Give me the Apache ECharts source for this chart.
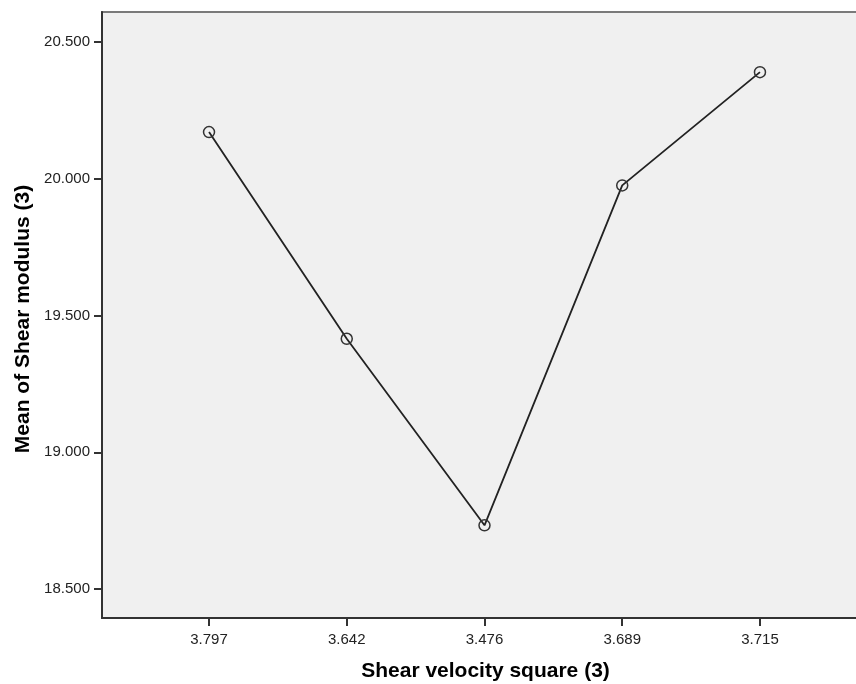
<!DOCTYPE html>
<html>
<head>
<meta charset="utf-8">
<script src="https://cdn.jsdelivr.net/npm/echarts@6/dist/echarts.min.js"></script>
<style>
html,body{margin:0;padding:0;background:#fff;}
#chart{width:856px;height:684px;}
</style>
</head>
<body>
<div id="chart"></div>
<script>
// Categories (x axis) and series values (means)
var categories = ['3.797', '3.642', '3.476', '3.689', '3.715'];
var meanShearModulus = [20.171, 19.415, 18.733, 19.976, 20.390];
var yTickValues = [18.5, 19.0, 19.5, 20.0, 20.5];
var yTickLabels = ['18.500', '19.000', '19.500', '20.000', '20.500'];

var seriesData = meanShearModulus.map(function (v, i) { return [i, v]; });
var catIndex = categories.map(function (c, i) { return i; });

var chart = echarts.init(document.getElementById('chart'), null, { renderer: 'canvas' });
var FONT = 'Liberation Sans, Arial, sans-serif';
chart.setOption({
  animation: false,
  backgroundColor: '#ffffff',
  grid: {
    left: 102, top: 12, right: -3, bottom: 66,
    outerBoundsMode: 'none',
    containLabel: false,
    show: true, backgroundColor: '#f0f0f0', borderColor: '#7a7a7a', borderWidth: 2
  },
  xAxis: {
    type: 'value',
    min: -0.777,
    max: 4.719,
    name: 'Shear velocity square (3)',
    nameLocation: 'middle',
    nameGap: 43,
    nameTextStyle: { fontFamily: FONT, fontSize: 21, fontWeight: 'bold', color: '#000', padding: [0, 0, 0, 10] },
    axisLine: { show: true, onZero: false, lineStyle: { color: '#333', width: 2 } },
    axisTick: { show: true, length: 8, customValues: catIndex, lineStyle: { color: '#333', width: 2 } },
    axisLabel: {
      customValues: catIndex, margin: 14, fontFamily: FONT, fontSize: 15, color: '#222',
      formatter: function (v) { return categories[Math.round(v)]; }
    },
    splitLine: { show: false }
  },
  yAxis: {
    type: 'value',
    min: 18.394,
    max: 20.61,
    name: 'Mean of Shear modulus (3)',
    nameLocation: 'middle',
    nameRotate: 90,
    nameGap: 65,
    nameTextStyle: { fontFamily: FONT, fontSize: 21, fontWeight: 'bold', color: '#000', padding: [0, 8, 0, 0] },
    axisLine: { show: true, onZero: false, lineStyle: { color: '#333', width: 2 } },
    axisTick: { show: true, length: 8, customValues: yTickValues, lineStyle: { color: '#333', width: 2 } },
    axisLabel: {
      customValues: yTickValues, margin: 12, fontFamily: FONT, fontSize: 15, color: '#222',
      formatter: function (v) {
        var idx = yTickValues.findIndex(function (t) { return Math.abs(t - v) < 1e-6; });
        return idx >= 0 ? yTickLabels[idx] : '';
      }
    },
    splitLine: { show: false }
  },
  series: [{
    type: 'line',
    data: seriesData,
    symbol: 'circle',
    symbolSize: 11,
    showAllSymbol: true,
    lineStyle: { color: '#222', width: 1.8 },
    itemStyle: { color: 'rgba(0,0,0,0)', borderColor: '#333', borderWidth: 1.5 }
  }]
});
</script>
</body>
</html>
